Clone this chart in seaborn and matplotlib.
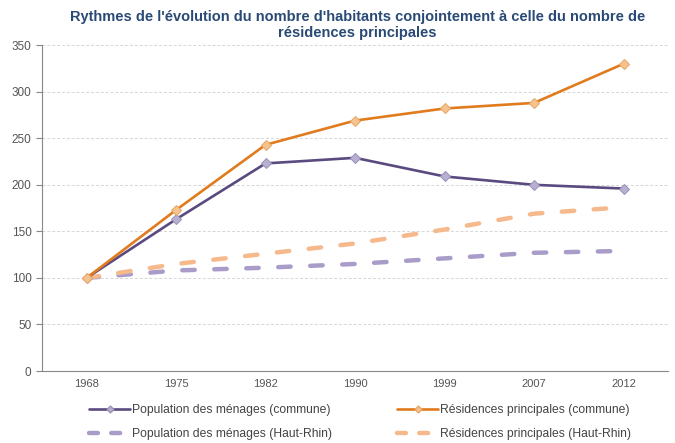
import numpy as np
import pandas as pd
import matplotlib
matplotlib.use("Agg")
import matplotlib.pyplot as plt
import seaborn as sns
from matplotlib.lines import Line2D

years = ["1968", "1975", "1982", "1990", "1999", "2007", "2012"]
pop_commune = [100, 163, 223, 229, 209, 200, 196]
res_commune = [100, 173, 243, 269, 282, 288, 330]
pop_hautrhin = [100, 108, 111, 115, 121, 127, 129]
res_hautrhin = [100, 115, 126, 137, 152, 169, 176]

sns.set_style("white")
plt.rcParams["font.family"] = ["Liberation Sans", "DejaVu Sans"]

c_pop = "#5a4a80"
c_res = "#e07b1e"
c_pop_hr = "#a99cc9"
c_res_hr = "#f6b98c"
dash = (0, (2.8, 4.4))

fig = plt.figure(figsize=(6.75, 4.43), dpi=100)
ax = fig.add_axes([0.062, 0.1625, 0.928, 0.7355])

x = np.arange(len(years))
sns.lineplot(x=x, y=pop_hautrhin, ax=ax, color=c_pop_hr, lw=3.2, zorder=2)
sns.lineplot(x=x, y=res_hautrhin, ax=ax, color=c_res_hr, lw=3.2, zorder=2)
for l in ax.lines:
    l.set_linestyle(dash)
    l.set_dash_capstyle("round")
sns.lineplot(x=x, y=pop_commune, ax=ax, color=c_pop, lw=1.9, marker="D",
             markersize=5, markerfacecolor="#b8b0d0", markeredgecolor="#9c93bb",
             zorder=3)
sns.lineplot(x=x, y=res_commune, ax=ax, color=c_res, lw=1.9, marker="D",
             markersize=5, markerfacecolor="#f5c48e", markeredgecolor="#e8a868",
             zorder=4)

ax.set_xlim(-0.5, len(years) - 0.5)
ax.set_ylim(0, 350)
ax.set_yticks(range(0, 351, 50))
ax.set_xticks(x)
ax.set_xticklabels(years)
ax.set_xticks(np.arange(-0.5, len(years), 1), minor=True)
ax.tick_params(axis="x", which="major", length=0, pad=6, labelsize=8, labelcolor="#555555")
ax.tick_params(axis="x", which="minor", length=4, color="#888888", direction="out")
ax.tick_params(axis="y", length=4, color="#888888", labelsize=8.5, labelcolor="#555555", left=True)
ax.grid(axis="y", color="#d6d6d6", linestyle=(0, (3, 2)), lw=0.7)
ax.set_axisbelow(True)
for s in ["top", "right"]:
    ax.spines[s].set_visible(False)
ax.spines["left"].set_color("#888888")
ax.spines["bottom"].set_color("#888888")
ax.set_xlabel("")
ax.set_ylabel("")

fig.suptitle("Rythmes de l'évolution du nombre d'habitants conjointement à celle du nombre de\nrésidences principales",
             x=0.53, y=0.978, fontsize=10.5, fontweight="bold", color="#2a4a76",
             linespacing=1.2)

handles = [
    Line2D([], [], color=c_pop, lw=1.9, marker="D", markersize=3.5,
           markerfacecolor="#b8b0d0", markeredgecolor="#9c93bb"),
    Line2D([], [], color=c_pop_hr, lw=3.2, linestyle=(0, (2.0, 3.0)), dash_capstyle="round"),
    Line2D([], [], color=c_res, lw=1.9, marker="D", markersize=3.5,
           markerfacecolor="#f5c48e", markeredgecolor="#e8a868"),
    Line2D([], [], color=c_res_hr, lw=3.2, linestyle=(0, (2.0, 3.0)), dash_capstyle="round"),
]
labels = ["Population des ménages (commune)", "Population des ménages (Haut-Rhin)",
          "Résidences principales (commune)", "Résidences principales (Haut-Rhin)"]
fig.legend(handles, labels, ncol=2, loc="lower left", bbox_to_anchor=(0.116, -0.018),
           frameon=False, fontsize=8.7, handlelength=3.4, handletextpad=0.15,
           columnspacing=5.4, labelspacing=1.0, labelcolor="#444444")

fig.savefig("out.png", dpi=100)
